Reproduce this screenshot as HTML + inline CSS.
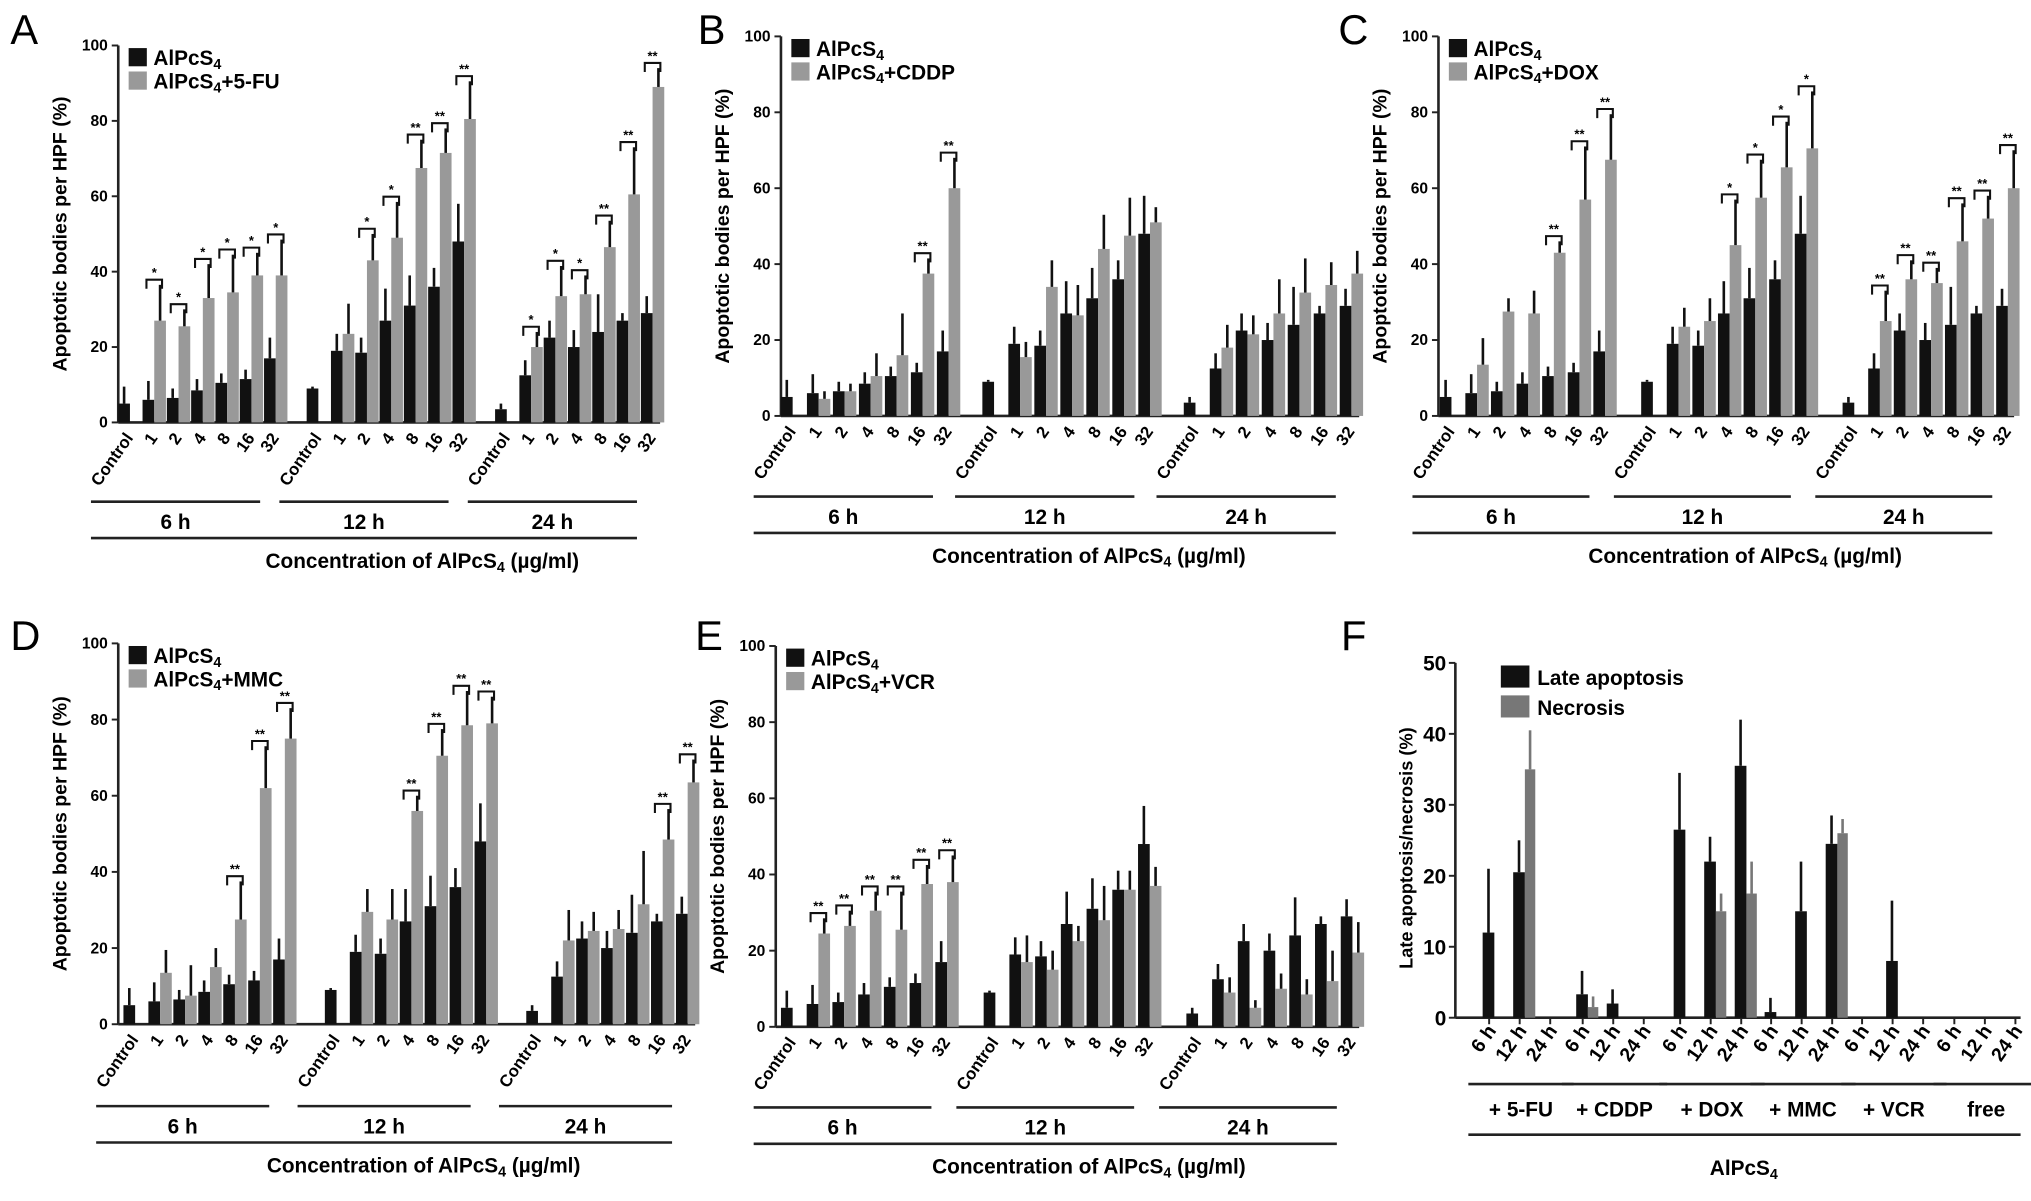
<!DOCTYPE html>
<html><head><meta charset="utf-8"><style>
html,body{margin:0;padding:0;background:#fff;}
svg{display:block;font-family:"Liberation Sans",Arial,sans-serif;font-weight:bold;}
</style></head><body>
<svg id="fig" width="2031" height="1201" viewBox="0 0 1563 924" preserveAspectRatio="none" xmlns="http://www.w3.org/2000/svg"></svg>
<script>
const conc = ["Control","1","2","4","8","16","32"];
const times = ["6 h","12 h","24 h"];
const baseBlack = [5,6,6.5,8.5,10.5,11.5,17, 9,19,18.5,27,31,36,48, 3.5,12.5,22.5,20,24,27,29];
const baseBlackErr = [4.5,5,2.5,3,2.5,2.5,5.5, 0.5,4.5,4,8.5,8,5,10, 1.5,4,4.5,4.5,10,2,4.5];
const grayA = [null,27,25.5,33,34.5,39,39, null,23.5,43,49,67.5,71.5,80.5, null,20,33.5,34,46.5,60.5,89];
const grayAErr = [0,9.5,4.5,9,10,6,9.5, 0,8,7,9.5,7.5,6.5,10, 0,4,8,5,7,12.5,5];
const sigA = ["","*","*","*","*","*","*", "","","*","*","**","**","**", "","*","*","*","**","**","**"];
const grayB = [null,4.5,6.5,10.5,16,37.5,60, null,15.5,34,26.5,44,47.5,51, null,18,21.5,27,32.5,34.5,37.5];
const grayBErr = [0,2,2,6,11,4,8, 0,4,7,8,9,10,4, 0,6,5,9,9,6,6];
const sigB = ["","","","","","**","**", "","","","","","","", "","","","","","",""];
const grayC = [null,13.5,27.5,27,43,57,67.5, null,23.5,25,45,57.5,65.5,70.5, null,25,36,35,46,52,60];
const grayCErr = [0,7,3.5,6,3,14,12, 0,5,6,12,10,12,15, 0,8,5,4,10,6,10];
const sigC = ["","","","","**","**","**", "","","","*","*","*","*", "","**","**","**","**","**","**"];
const grayD = [null,13.5,7.5,15,27.5,62,75, null,29.5,27.5,56,70.5,78.5,79, null,22,24.5,25,31.5,48.5,63.5];
const grayDErr = [0,6,8,5,10,11,8, 0,6,8,4,7,9,7, 0,8,5,5,14,8,6];
const sigD = ["","","","","**","**","**", "","","","**","**","**","**", "","","","","","**","**"];
const grayE = [null,24.5,26.5,30.5,25.5,37.5,38, null,17,15,22.5,28,36,37, null,9,5,10,8.5,12,19.5];
const grayEErr = [0,4,4,5,10,5,7, 0,7,5,4,9,5,5, 0,4,2,4,4,8,8];
const sigE = ["","**","**","**","**","**","**", "","","","","","","", "","","","","","",""];
const fGroups = ["+ 5-FU","+ CDDP","+ DOX","+ MMC","+ VCR","free"];
const fLate = [12,20.5,0, 3.3,2,0, 26.5,22,35.5, 0.8,15,24.5, 0,8,0, 0,0,0];
const fLateErr = [9,4.5,0, 3.3,2,0, 8,3.5,6.5, 2,7,4, 0,8.5,0, 0,0,0];
const fNec = [0,35,0, 1.5,0,0, 0,15,17.5, 0,0,26, 0,0,0, 0,0,0];
const fNecErr = [0,5.5,0, 1.5,0,0, 0,2.5,4.5, 0,0,2,0, 0,0,0, 0,0];

const svg = document.getElementById('fig');
const NS = "http://www.w3.org/2000/svg";
function mk(tag, attrs, parent, text){
  const e = document.createElementNS(NS, tag);
  for (const k in attrs) e.setAttribute(k, attrs[k]);
  if (text !== undefined) e.textContent = text;
  (parent||svg).appendChild(e);
  return e;
}
function legendText(g, x, y, base, suffix){
  const t = mk('text',{x:x,y:y,'font-size':16},g);
  mk('tspan',{},t,'AlPcS');
  mk('tspan',{'font-size':11,dy:3},t,'4');
  if (suffix) mk('tspan',{dy:-3},t,suffix);
  return t;
}

function panel(cfg){
  const g = mk('g',{});
  
  
  const ys = v => cfg.y0 - v/100*(cfg.y0-cfg.y100);
  const xs = i => cfg.x0 + Math.floor(i/7)*cfg.gw + (i%7)*cfg.sw;
  const L = mk('text',{x:cfg.lx,y:cfg.ly,'font-size':32,'font-weight':'normal'},g,cfg.letter);
   
  const ax = mk('line',{x1:cfg.ax,y1:cfg.y100,x2:cfg.ax,y2:cfg.y0,stroke:'#222','stroke-width':2},g);
   
  const xa = mk('line',{x1:cfg.ax,y1:cfg.y0,x2:cfg.xend,y2:cfg.y0,stroke:'#222','stroke-width':2},g);
   
  for (let v=0; v<=100; v+=20){
    mk('line',{x1:cfg.ax-5,y1:ys(v),x2:cfg.ax,y2:ys(v),stroke:'#222','stroke-width':1.5},g);
    const t = mk('text',{x:cfg.ax-8,y:ys(v)+4,'font-size':12,'text-anchor':'end'},g,String(v));
     
  }
  const yt = mk('text',{x:0,y:0,'font-size':15,'text-anchor':'middle',transform:`translate(${cfg.ax-40},${(cfg.y0+cfg.y100)/2}) rotate(-90)`},g,'Apoptotic bodies per HPF (%)');
   
  for (let i=0;i<21;i++){
    const x = xs(i);
    const b = baseBlack[i];
    const r = mk('rect',{x:x-9,y:ys(b),width:9,height:cfg.y0-ys(b),fill:'#111'},g);
     
    mk('line',{x1:x-4.5,x2:x-4.5,y1:ys(b),y2:ys(b+baseBlackErr[i]),stroke:'#111','stroke-width':2},g);
    const gv = cfg.gray[i];
    if (gv!==null){
      const r2 = mk('rect',{x:x,y:ys(gv),width:9,height:cfg.y0-ys(gv),fill:'#999'},g);
       
      mk('line',{x1:x+4.5,x2:x+4.5,y1:ys(gv),y2:ys(gv+cfg.grayErr[i]),stroke:'#111','stroke-width':2},g);
      if (cfg.sig[i]){
        const top = Math.min(ys(gv+cfg.grayErr[i]), ys(b+baseBlackErr[i])) - 4;
        mk('path',{d:`M${x-6},${top+7} V${top} H${x+6} V${top+7}`,fill:'none',stroke:'#111','stroke-width':1.6},g);
        const s = mk('text',{x:x,y:top-2,'font-size':10,'text-anchor':'middle'},g,cfg.sig[i]);
         
      }
    }
    const tl = mk('text',{x:0,y:0,'font-size':13,'text-anchor':'end',transform:`translate(${x+3},${cfg.y0+12}) rotate(-55)`},g,conc[i%7]);
     
  }
  for (let k=0;k<3;k++){
    const a = xs(k*7)-30, bb = xs(k*7+6)-12;
    mk('line',{x1:a,x2:bb,y1:cfg.gl,y2:cfg.gl,stroke:'#222','stroke-width':2},g);
    const t = mk('text',{x:(a+bb)/2,y:cfg.gl+21,'font-size':16,'text-anchor':'middle'},g,times[k]);
     
  }
  mk('line',{x1:xs(0)-30,x2:xs(20)-12,y1:cfg.gl+28,y2:cfg.gl+28,stroke:'#222','stroke-width':2},g);
  const ct = mk('text',{x:cfg.tx,y:cfg.gl+51,'font-size':16,'text-anchor':'middle'},g);
   
  mk('tspan',{},ct,'Concentration of AlPcS'); mk('tspan',{'font-size':11,dy:3},ct,'4'); mk('tspan',{dy:-3},ct,' (µg/ml)');
  const lg = mk('g',{},g);
   
  mk('rect',{x:cfg.ax+8,y:cfg.y100+2,width:14,height:14,fill:'#111'},lg);
  legendText(lg,cfg.ax+27,cfg.y100+15);
  mk('rect',{x:cfg.ax+8,y:cfg.y100+20,width:14,height:14,fill:'#999'},lg);
  legendText(lg,cfg.ax+27,cfg.y100+33,null,cfg.suffix);
}
panel({letter:'A',lx:8,ly:34,ax:91,x0:100,sw:18.7,gw:145,xend:508,y0:325,y100:35,gray:grayA,grayErr:grayAErr,sig:sigA,suffix:'+5-FU',gl:386,tx:325});
panel({letter:'B',lx:537,ly:34,ax:601,x0:610,sw:20,gw:155,xend:1046,y0:320,y100:28,gray:grayB,grayErr:grayBErr,sig:sigB,suffix:'+CDDP',gl:382,tx:838});
panel({letter:'C',lx:1030,ly:34,ax:1107,x0:1117,sw:19.7,gw:155,xend:1550,y0:320,y100:28,gray:grayC,grayErr:grayCErr,sig:sigC,suffix:'+DOX',gl:382,tx:1343});
panel({letter:'D',lx:8,ly:500,ax:91,x0:104,sw:19.2,gw:155,xend:535,y0:788,y100:495,gray:grayD,grayErr:grayDErr,sig:sigD,suffix:'+MMC',gl:851,tx:326});
panel({letter:'E',lx:535,ly:500,ax:597,x0:610,sw:19.8,gw:156,xend:1046,y0:790,y100:497,gray:grayE,grayErr:grayEErr,sig:sigE,suffix:'+VCR',gl:852,tx:838});

(function(){
  const g = mk('g',{});
   
  const y0=783, y50=510, ax=1120;
  const ys = v => y0 - v/50*(y0-y50);
  const groupX = [1150,1222,1297,1367,1437,1508];
  const step = 23.5;
  const L = mk('text',{x:1032,y:500,'font-size':32,'font-weight':'normal'},g,'F');
   
  mk('line',{x1:ax,y1:y50,x2:ax,y2:y0,stroke:'#222','stroke-width':2},g);
  mk('line',{x1:ax,y1:y0,x2:1555,y2:y0,stroke:'#222','stroke-width':2},g);
  for (let v=0; v<=50; v+=10){
    mk('line',{x1:ax-5,y1:ys(v),x2:ax,y2:ys(v),stroke:'#222','stroke-width':1.5},g);
    const t = mk('text',{x:ax-7,y:ys(v)+6,'font-size':16,'text-anchor':'end'},g,String(v));
     
  }
  const yt = mk('text',{x:0,y:0,'font-size':14,'text-anchor':'middle',transform:`translate(1087,${(y0+y50)/2+6}) rotate(-90)`},g,'Late apoptosis/necrosis (%)');
   
  for (let gi=0; gi<6; gi++){
    for (let k=0;k<3;k++){
      const i = gi*3+k;
      const x = groupX[gi] + k*step;
      mk('line',{x1:x-4,x2:x-4,y1:y0,y2:y0+5,stroke:'#222','stroke-width':1.5},g);
      if (fLate[i]>0){
        const r = mk('rect',{x:x-9,y:ys(fLate[i]),width:9,height:y0-ys(fLate[i]),fill:'#111'},g);
         
        mk('line',{x1:x-4.5,x2:x-4.5,y1:ys(fLate[i]),y2:ys(fLate[i]+fLateErr[i]),stroke:'#111','stroke-width':2},g);
      }
      if (fNec[i]>0){
        const r = mk('rect',{x:x,y:ys(fNec[i]),width:8,height:y0-ys(fNec[i]),fill:'#777'},g);
         
        mk('line',{x1:x+4,x2:x+4,y1:ys(fNec[i]),y2:ys(fNec[i]+fNecErr[i]),stroke:'#777','stroke-width':2},g);
      }
      const tl = mk('text',{x:0,y:0,'font-size':15,'text-anchor':'end',transform:`translate(${x+2},${y0+10}) rotate(-55)`},g,times[k]);
       
    }
    const a = groupX[gi]-20, b = groupX[gi]+2*step+14;
    mk('line',{x1:a,x2:b,y1:834,y2:834,stroke:'#222','stroke-width':2},g);
    const t = mk('text',{x:(a+b)/2,y:859,'font-size':16,'text-anchor':'middle'},g,fGroups[gi]);
     
  }
  mk('line',{x1:1130,x2:1555,y1:873,y2:873,stroke:'#222','stroke-width':2},g);
  const ct = mk('text',{x:1342,y:904,'font-size':16,'text-anchor':'middle'},g);
   
  mk('tspan',{},ct,'AlPcS'); mk('tspan',{'font-size':11,dy:3},ct,'4');
  const lg = mk('g',{},g);
   
  mk('rect',{x:1155,y:512,width:22,height:17,fill:'#111'},lg);
  mk('text',{x:1183,y:527,'font-size':16},lg,'Late apoptosis');
  mk('rect',{x:1155,y:535,width:22,height:17,fill:'#777'},lg);
  mk('text',{x:1183,y:550,'font-size':16},lg,'Necrosis');
})();
</script>
</body></html>
